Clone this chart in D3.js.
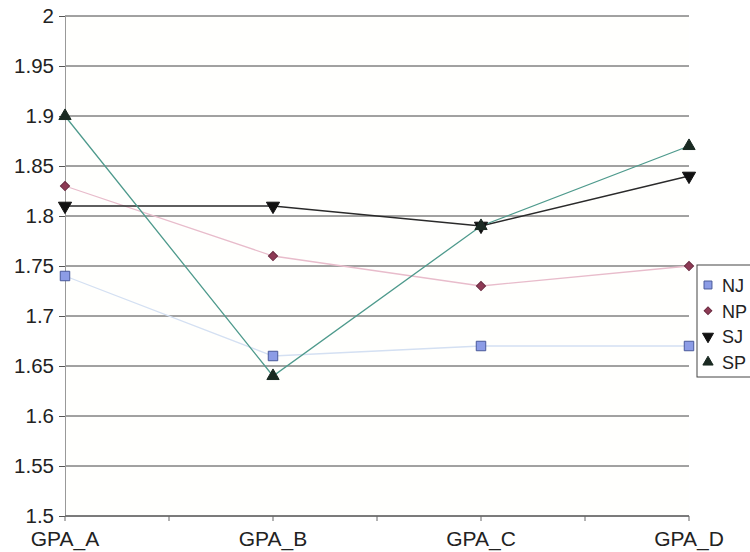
<!DOCTYPE html>
<html>
<head>
<meta charset="utf-8">
<script src="https://cdn.jsdelivr.net/npm/d3@7"></script>
<style>
  body { margin: 0; background: #fff; }
  svg { display: block; font-family: "Liberation Sans", Arial, sans-serif; }
</style>
</head>
<body>
<div id="chart"></div>
<script>
const categories = ['GPA_A', 'GPA_B', 'GPA_C', 'GPA_D'];
const seriesNames = ['NJ', 'NP', 'SJ', 'SP'];
const nj = [1.74, 1.66, 1.67, 1.67];
const np = [1.83, 1.76, 1.73, 1.75];
const sj = [1.81, 1.81, 1.79, 1.84];
const sp = [1.90, 1.64, 1.79, 1.87];
const yTicks = [1.5, 1.55, 1.6, 1.65, 1.7, 1.75, 1.8, 1.85, 1.9, 1.95, 2];

const series = [
    { name: seriesNames[0], values: nj, line: '#d4e0f2', fill: '#8c9ce6', stroke: '#4a5a9a', symbol: d3.symbolSquare, size: 90, rot: 0 },
    { name: seriesNames[1], values: np, line: '#e8bccb', fill: '#8e3a55', stroke: '#6a2a40', symbol: d3.symbolSquare, size: 42, rot: 45 },
    { name: seriesNames[2], values: sj, line: '#2a2a2a', fill: '#111', stroke: '#111', symbol: d3.symbolTriangle, size: 75, rot: 180 },
    { name: seriesNames[3], values: sp, line: '#4e9a8c', fill: '#1a2a22', stroke: '#1a2a22', symbol: d3.symbolTriangle, size: 65, rot: 0 }
];

const W = 750, H = 552;
const plot = { left: 65, right: 689, top: 16, bottom: 516 };

const svg = d3.select('#chart').append('svg')
    .attr('width', W).attr('height', H);

const x = d3.scalePoint().domain(categories).range([plot.left, plot.right]);
const y = d3.scaleLinear().domain([1.5, 2]).range([plot.bottom, plot.top]);

// plot background
svg.append('rect')
    .attr('x', plot.left).attr('y', plot.top)
    .attr('width', plot.right - plot.left).attr('height', plot.bottom - plot.top)
    .attr('fill', '#fffffd');

// horizontal grid
svg.append('g').selectAll('line')
    .data(yTicks)
    .join('line')
    .attr('x1', plot.left).attr('x2', plot.right)
    .attr('y1', d => y(d)).attr('y2', d => y(d))
    .attr('stroke', '#444').attr('stroke-width', 1);

// y axis
const yAxis = svg.append('g')
    .attr('transform', `translate(${plot.left},0)`)
    .call(d3.axisLeft(y).tickValues(yTicks).tickSize(6).tickPadding(5).tickFormat(d3.format('')));
yAxis.select('.domain').attr('stroke', '#999');
yAxis.selectAll('.tick line').attr('stroke', '#555');
yAxis.selectAll('.tick text').attr('font-size', 20.5).attr('fill', '#222')
    .attr('font-family', '"Liberation Sans", Arial, sans-serif');

// x axis: ticks at categories and midpoints
const step = x.step();
const xTickPos = d3.range(0, categories.length * 2 - 1).map(i => plot.left + i * step / 2);
const xAxisG = svg.append('g');
xAxisG.append('line')
    .attr('x1', plot.left).attr('x2', plot.right)
    .attr('y1', plot.bottom).attr('y2', plot.bottom)
    .attr('stroke', '#555');
xAxisG.selectAll('line.tk')
    .data(xTickPos)
    .join('line')
    .attr('class', 'tk')
    .attr('x1', d => d).attr('x2', d => d)
    .attr('y1', plot.bottom).attr('y2', plot.bottom + 5)
    .attr('stroke', '#666');
xAxisG.selectAll('text')
    .data(categories)
    .join('text')
    .attr('x', d => x(d))
    .attr('y', plot.bottom + 30)
    .attr('text-anchor', 'middle')
    .attr('font-size', 21)
    .attr('fill', '#222')
    .text(d => d);

// lines
const line = d3.line()
    .x((d, i) => x(categories[i]))
    .y(d => y(d));

series.forEach(s => {
    svg.append('path')
        .datum(s.values)
        .attr('fill', 'none')
        .attr('stroke', s.line)
        .attr('stroke-width', 1.3)
        .attr('d', line);
});

// markers
series.forEach(s => {
    const sym = d3.symbol().type(s.symbol).size(s.size);
    svg.append('g').selectAll('path')
        .data(s.values)
        .join('path')
        .attr('d', sym)
        .attr('transform', (d, i) => `translate(${x(categories[i])},${y(d)}) rotate(${s.rot})`)
        .attr('fill', s.fill)
        .attr('stroke', s.stroke)
        .attr('stroke-width', 1);
});

// legend
const lg = svg.append('g').attr('transform', 'translate(697,265)');
lg.append('rect')
    .attr('width', 60).attr('height', 112)
    .attr('fill', '#fff')
    .attr('stroke', '#444');
series.forEach((s, i) => {
    const row = lg.append('g').attr('transform', `translate(0,${20 + i * 25.7})`);
    row.append('path')
        .attr('d', d3.symbol().type(s.symbol).size(s.size * 0.7))
        .attr('transform', `translate(11,0) rotate(${s.rot})`)
        .attr('fill', s.fill)
        .attr('stroke', s.stroke);
    row.append('text')
        .attr('x', 25).attr('y', 7)
        .attr('font-size', 18)
        .attr('fill', '#222')
        .text(s.name);
});
</script>
</body>
</html>
